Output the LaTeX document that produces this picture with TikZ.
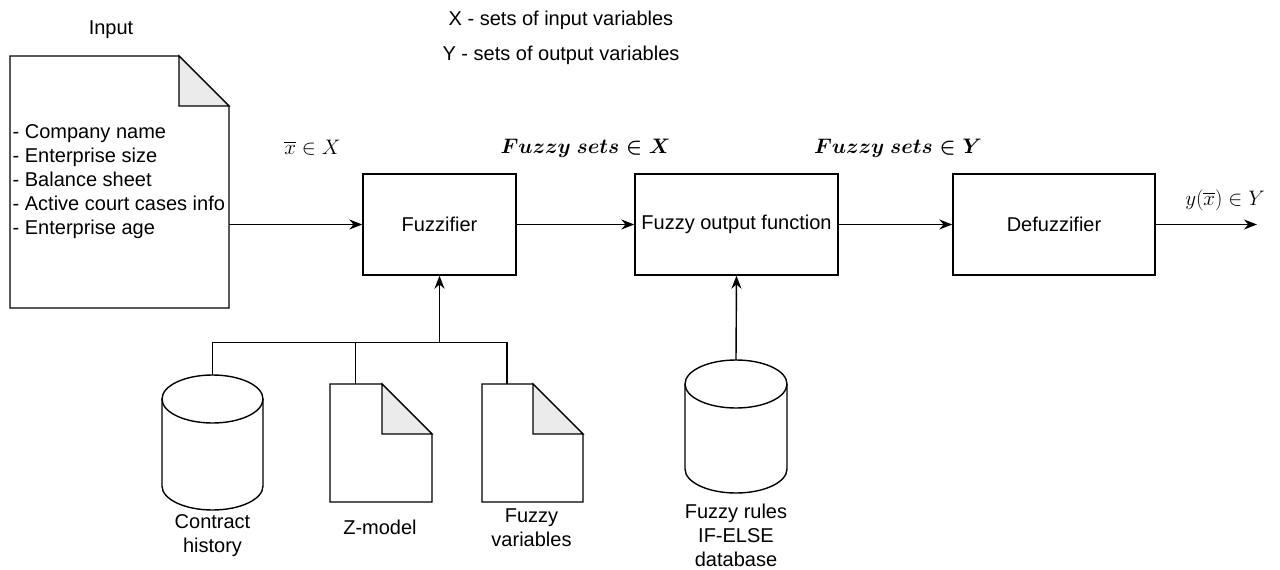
\RequirePackage{fix-cm}
\documentclass[tikz,border=0pt]{standalone}
\usepackage{amsmath,amssymb}
\usepackage{fontspec}
\setmainfont{Liberation Sans}
\usetikzlibrary{arrows.meta}

% Document outline with a folded corner, drawn round a plain node
\newcommand{\docoutline}[1]{%
\draw[fill=white] (#1.north west) -- ([xshift=-50pt]#1.north east) -- ([yshift=-50pt]#1.north east) -- (#1.south east) -- (#1.south west) -- cycle;
\draw[fill=foldgray] ([xshift=-50pt]#1.north east) -- ([xshift=-50pt,yshift=-50pt]#1.north east) -- ([yshift=-50pt]#1.north east) -- cycle;}
% Cylinder (database) drawn round a plain node; #2 is half its width
\newcommand{\cyloutline}[2]{%
\draw[fill=white] ([yshift=-24pt]#1.north west) -- ([yshift=24pt]#1.south west) arc[start angle=180,end angle=360,x radius=#2,y radius=24pt] -- ([yshift=-24pt]#1.north east);
\draw[fill=white] ([yshift=-24pt]#1.north) ellipse[x radius=#2,y radius=24pt];}

\begin{document}
\begin{tikzpicture}[x=1pt,y=-1pt,line width=1.4pt,
  font=\fontsize{20}{24}\selectfont,
  >={Stealth[length=13pt,width=10pt]},
  boxnode/.style={draw,rectangle,minimum height=101pt,inner sep=2pt},
  shapenode/.style={rectangle,inner sep=0pt,outer sep=0pt},
  lbl/.style={align=center,inner sep=0pt},
  mathlbl/.style={inner sep=0pt,font=\fontsize{21}{25}\selectfont}]
\colorlet{foldgray}{black!8}
\useasboundingbox (0,0) rectangle (1280,570);
% Legend
\node[lbl] (legx) at (561,20) {X - sets of input variables};
\node[lbl] (legy) at (561,55) {Y - sets of output variables};
% Input document
\node[lbl] (inputlbl) at (111,30) {Input};
\node[shapenode,minimum width=219pt,minimum height=252pt] (input) at (119.5,182) {};
\docoutline{input}
\node[anchor=west,align=left,inner sep=0pt] (inputtext) at ([xshift=2pt]input.west) {- Company name\\- Enterprise size\\- Balance sheet\\- Active court cases info\\- Enterprise age};
% Processing blocks
\node[boxnode,minimum width=153pt] (fuzz) at (439.5,224.5) {Fuzzifier};
\node[boxnode,minimum width=203pt] (fof) at (736.5,224.5) {Fuzzy output function};
\node[boxnode,minimum width=202pt] (defuzz) at (1054,224.5) {Defuzzifier};
\coordinate (out) at (1257,224.5);
% Flow labels
\node[mathlbl] (xlbl) at (312.5,148) {$\overline{x}\in X$};
\node[mathlbl] (fsx) at (585.5,148) {$\boldsymbol{Fuzzy\ sets\in X}$};
\node[mathlbl] (fsy) at (898,148) {$\boldsymbol{Fuzzy\ sets\in Y}$};
\node[mathlbl] (ylbl) at (1225,200) {$y(\overline{x})\in Y$};
% Main flow
\draw[->] (input.east |- fuzz.west) -- (fuzz.west);
\draw[->] (fuzz.east) -- (fof.west);
\draw[->] (fof.east) -- (defuzz.west);
\draw[->] (defuzz.east) -- (out);
% Fuzzifier sources
\node[shapenode,minimum width=101pt,minimum height=135pt] (contract) at (212.5,442.5) {};
\cyloutline{contract}{50.5pt}
\node[lbl] (contractlbl) at (212.5,535.5) {Contract\\history};
\node[shapenode,minimum width=102pt,minimum height=118pt] (zmodel) at (381,443) {};
\docoutline{zmodel}
\node[lbl] (zmodellbl) at (380,527) {Z-model};
\node[shapenode,minimum width=101pt,minimum height=118pt] (fvars) at (532.5,443) {};
\docoutline{fvars}
\node[lbl] (fvarslbl) at (531.5,527.5) {Fuzzy\\variables};
\coordinate (bus) at (439.5,342.5);
\draw ([xshift=-25.5pt]fvars.north) |- (contract.north |- bus) -- (contract.north);
\draw ([xshift=-25.5pt]zmodel.north) -- ([xshift=-25.5pt]zmodel.north |- bus);
\draw[->] (bus) -- (fuzz.south);
% Rule base
\node[shapenode,minimum width=102pt,minimum height=133pt] (rules) at (736,426.5) {};
\cyloutline{rules}{51pt}
\node[lbl] (ruleslbl) at (736,535) {Fuzzy rules\\IF-ELSE\\database};
\draw[->] (rules.north) -- (fof.south);
\end{tikzpicture}
\end{document}
